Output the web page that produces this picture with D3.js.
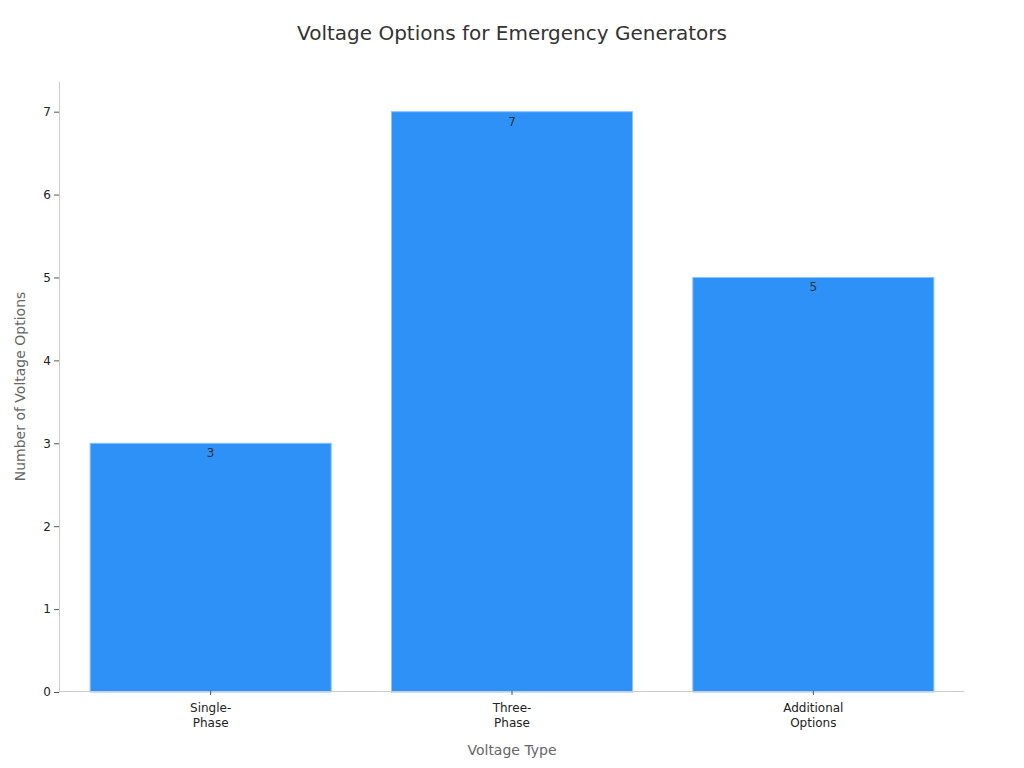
<!DOCTYPE html>
<html>
<head>
  <meta charset="utf-8">
  <title>Voltage Options for Emergency Generators</title>
  <script src="https://d3js.org/d3.v7.min.js"></script>
  <style>
    body { margin: 0; background: #fff; font-family: "DejaVu Sans", sans-serif; }
  </style>
</head>
<body>
<script>
// data
var categories = [["Single-", "Phase"], ["Three-", "Phase"], ["Additional", "Options"]];
var values = [3, 7, 5];
var yTicks = [0, 1, 2, 3, 4, 5, 6, 7];

var width = 1024, height = 768;
var plotLeft = 60, plotRight = 964, plotTop = 81, plotBottom = 692;

var svg = d3.select("body").append("svg")
  .attr("width", width).attr("height", height)
  .style("font-family", "DejaVu Sans, sans-serif");

var keys = categories.map(function(c) { return c.join(""); });

var xScale = d3.scaleBand()
  .range([plotLeft, plotRight])
  .paddingInner(0.2)
  .paddingOuter(0.1)
  .domain(keys);

var yScale = d3.scaleLinear()
  .domain([0, 7.37])
  .range([plotBottom, plotTop]);

// title
svg.append("text")
  .attr("x", width / 2).attr("y", 40)
  .attr("text-anchor", "middle")
  .attr("font-size", 20)
  .attr("fill", "#333")
  .text("Voltage Options for Emergency Generators");

// bars
svg.append("g").selectAll("rect")
  .data(values)
  .enter().append("rect")
  .attr("x", function(d, i) { return xScale(keys[i]); })
  .attr("y", function(d) { return yScale(d); })
  .attr("width", xScale.bandwidth())
  .attr("height", function(d) { return plotBottom - yScale(d); })
  .attr("fill", "#2e91f8")
  .attr("stroke", "#8cc4fb")
  .attr("stroke-width", 1);

// value labels
svg.append("g").selectAll("text")
  .data(values)
  .enter().append("text")
  .attr("x", function(d, i) { return xScale(keys[i]) + xScale.bandwidth() / 2; })
  .attr("y", function(d) { return yScale(d) + 14; })
  .attr("text-anchor", "middle")
  .attr("font-size", 12)
  .attr("fill", "#333")
  .text(function(d) { return d; });

// y axis
var yAxis = svg.append("g")
  .attr("transform", "translate(" + (plotLeft - 1) + ",0)")
  .call(d3.axisLeft(yScale).tickValues(yTicks).tickSize(5).tickSizeOuter(0));
yAxis.select(".domain").attr("stroke", "#ccc");
yAxis.selectAll(".tick line").attr("stroke", "#555");
yAxis.selectAll(".tick text").attr("fill", "#222").attr("font-size", 12)
  .attr("font-family", "DejaVu Sans, sans-serif");

// x axis
var xAxis = svg.append("g")
  .attr("transform", "translate(0," + (plotBottom - 1) + ")")
  .call(d3.axisBottom(xScale).tickSize(4).tickSizeOuter(0).tickFormat(""));
xAxis.select(".domain").attr("stroke", "#ccc").attr("d", "M" + (plotLeft - 1) + ",0.5H" + plotRight);
xAxis.selectAll(".tick line").attr("stroke", "#555");
xAxis.selectAll(".tick").each(function(d, i) {
  var t = d3.select(this).append("text")
    .attr("text-anchor", "middle")
    .attr("fill", "#222")
    .attr("font-size", 12)
    .attr("font-family", "DejaVu Sans, sans-serif");
  categories[i].forEach(function(line, j) {
    t.append("tspan").attr("x", 0).attr("y", 21 + j * 15).text(line);
  });
});

// axis titles
svg.append("text")
  .attr("x", (plotLeft + plotRight) / 2).attr("y", 755)
  .attr("text-anchor", "middle")
  .attr("font-size", 14)
  .attr("fill", "#666")
  .text("Voltage Type");

svg.append("text")
  .attr("transform", "translate(25," + ((plotTop + plotBottom) / 2) + ") rotate(-90)")
  .attr("text-anchor", "middle")
  .attr("font-size", 14)
  .attr("fill", "#666")
  .text("Number of Voltage Options");
</script>
</body>
</html>
